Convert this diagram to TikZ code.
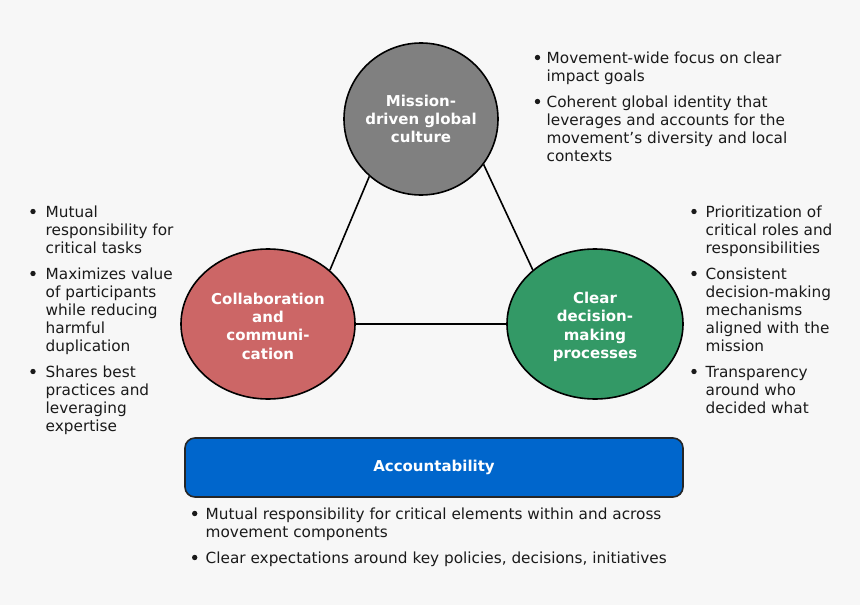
\documentclass[tikz,border=0pt]{standalone}
\usepackage{fontspec}
\setmainfont{DejaVu Sans}
\usepackage{tikz}
\usetikzlibrary{shapes.geometric}

\definecolor{bgcol}{HTML}{F7F7F7}
\definecolor{missioncol}{HTML}{808080}
\definecolor{collabcol}{HTML}{CC6666}
\definecolor{decisioncol}{HTML}{339966}
\definecolor{accountcol}{HTML}{0066CC}
\definecolor{textcol}{HTML}{1A1A1A}

\newcommand{\bodyfont}{\fontsize{15.3}{18}\selectfont}
\newcommand{\headfont}{\fontsize{15}{18.3}\selectfont\bfseries}

\tikzset{
	pillar/.style={ellipse, draw=black, line width=1.6pt, inner sep=0pt},
	pillarlabel/.style={align=center, text=white, font=\headfont, inner sep=0pt},
	link/.style={draw=black, line width=1.6pt},
	pointtext/.style={anchor=north west, align=left, inner sep=0pt, font=\bodyfont, text=textcol},
	bulletdot/.style={circle, fill=textcol, inner sep=0pt, minimum size=5.4pt}
}

\begin{document}
\begin{tikzpicture}[x=1pt,y=-1pt]

	\fill[bgcol] (0,0) rectangle (860,605);
	\useasboundingbox (0,0) rectangle (860,605);

	% the three pillars
	\node[pillar, fill=missioncol, minimum width=154pt, minimum height=152pt] (mission) at (421,119) {};
	\node[pillar, fill=collabcol, minimum width=174pt, minimum height=150pt] (collab) at (268,324) {};
	\node[pillar, fill=decisioncol, minimum width=176pt, minimum height=150pt] (decision) at (595,324) {};

	\draw[link] (mission.228) -- (collab.41);
	\draw[link] (mission.324) -- (decision.139);
	\draw[link] (collab.east) -- (decision.west);

	\node[pillarlabel] (missiontext) at (421,119) {Mission-\\driven global\\culture};
	\node[pillarlabel] (collabtext) at (268,326) {Collaboration\\and\\communi-\\cation};
	\node[pillarlabel] (decisiontext) at (595,327) {Clear\\decision-\\making\\processes};

	% accountability bar
	\node[draw=black!85, line width=1.6pt, fill=accountcol, rounded corners=10pt, minimum width=498pt, minimum height=59pt, inner sep=0pt, text=white, font=\headfont] (account) at (434,467.5) {Accountability};

	% mission points
	\node[bulletdot] (mdot1) at (537.5,57.5) {};
	\node[pointtext] (mpoint1) at (546.5,50.4) {\strut Movement-wide focus on clear\\impact goals};
	\node[bulletdot] (mdot2) at (537.5,101.5) {};
	\node[pointtext] (mpoint2) at (546.5,94.4) {\strut Coherent global identity that\\leverages and accounts for the\\movement’s diversity and local\\contexts};

	% collaboration points
	\node[bulletdot] (cdot1) at (33,211.5) {};
	\node[pointtext] (cpoint1) at (45.5,204.4) {\strut Mutual\\responsibility for\\critical tasks};
	\node[bulletdot] (cdot2) at (33,273.5) {};
	\node[pointtext] (cpoint2) at (45.5,266.4) {\strut Maximizes value\\of participants\\while reducing\\harmful\\duplication};
	\node[bulletdot] (cdot3) at (33,371.5) {};
	\node[pointtext] (cpoint3) at (45.5,364.4) {\strut Shares best\\practices and\\leveraging\\expertise};

	% decision points
	\node[bulletdot] (ddot1) at (694,211.5) {};
	\node[pointtext] (dpoint1) at (705.5,204.4) {\strut Prioritization of\\critical roles and\\responsibilities};
	\node[bulletdot] (ddot2) at (694,273.5) {};
	\node[pointtext] (dpoint2) at (705.5,266.4) {\strut Consistent\\decision-making\\mechanisms\\aligned with the\\mission};
	\node[bulletdot] (ddot3) at (694,371.5) {};
	\node[pointtext] (dpoint3) at (705.5,364.4) {\strut Transparency\\around who\\decided what};

	% accountability points
	\node[bulletdot] (adot1) at (194.7,513.5) {};
	\node[pointtext] (apoint1) at (205.5,506.4) {\strut Mutual responsibility for critical elements within and across\\movement components};
	\node[bulletdot] (adot2) at (194.7,557.5) {};
	\node[pointtext] (apoint2) at (205.5,550.4) {\strut Clear expectations around key policies, decisions, initiatives};

\end{tikzpicture}
\end{document}
